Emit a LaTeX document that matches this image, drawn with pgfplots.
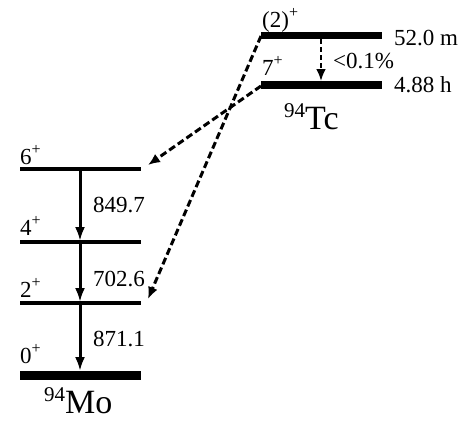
\documentclass[border=0pt]{standalone}
\usepackage{pgfplots}
\pgfplotsset{compat=1.18}
\usepackage{fontspec}
\setmainfont{Liberation Serif}
\usetikzlibrary{arrows.meta}

\newcommand{\lab}{\fontsize{23}{25}\selectfont}
\newcommand{\spin}[1]{\raisebox{0.42em}{\fontsize{16}{18}\selectfont #1}}
\newcommand{\nuc}[2]{{\fontsize{21}{23}\selectfont\raisebox{0.55em}{#1}}{\fontsize{34}{36}\selectfont #2}}

\begin{document}
\begin{tikzpicture}
\begin{axis}[
  width=467pt, height=421pt, scale only axis,
  xmin=0, xmax=467, ymin=0, ymax=421, y dir=reverse,
  hide axis, clip=false,
  level/.style={line width=#1, line cap=butt},
  gamma/.style={-{Latex[length=14pt,width=10pt]}, line width=3pt},
  feed/.style={-{Latex[length=12pt,width=10pt]}, line width=3pt, dash pattern=on 7pt off 3.5pt},
]
\path (axis cs:0,0) rectangle (axis cs:467,421);

% 94Tc states
\addplot[level=7pt] coordinates {(261,35) (382,35)};
\addplot[level=7.5pt] coordinates {(261,85) (382,85)};

% 94Mo states
\addplot[level=4pt] coordinates {(20,169) (141,169)};
\addplot[level=4pt] coordinates {(20,242) (141,242)};
\addplot[level=4pt] coordinates {(20,303) (141,303)};
\addplot[level=9pt] coordinates {(20,375) (141,375)};

% gamma cascade in 94Mo
\addplot[gamma] coordinates {(80,171) (80,241)};
\addplot[gamma] coordinates {(80,244) (80,302)};
\addplot[gamma] coordinates {(80,305) (80,371)};

% isomeric transition in 94Tc
\addplot[feed, line width=2.4pt, dash pattern=on 5pt off 3pt] coordinates {(321,39) (321,81)};

% beta feeding
\addplot[feed] coordinates {(261,86) (148,165)};
\addplot[feed] coordinates {(261,36) (148,299)};

% labels
\node[anchor=base west, inner sep=0] at (axis cs:262,27) {\lab (2)\spin{+}};
\node[anchor=base west, inner sep=0] at (axis cs:262,75) {\lab 7\spin{+}};
\node[anchor=base west, inner sep=0] at (axis cs:394,45) {\lab 52.0 m};
\node[anchor=base west, inner sep=0] at (axis cs:394,92) {\lab 4.88 h};
\node[anchor=base west, inner sep=0] at (axis cs:333,68) {\lab <0.1\%};
\node[anchor=base west, inner sep=0] at (axis cs:284,129) {\nuc{94}{Tc}};

\node[anchor=base west, inner sep=0] at (axis cs:20,164) {\lab 6\spin{+}};
\node[anchor=base west, inner sep=0] at (axis cs:20,235) {\lab 4\spin{+}};
\node[anchor=base west, inner sep=0] at (axis cs:20,297) {\lab 2\spin{+}};
\node[anchor=base west, inner sep=0] at (axis cs:20,363) {\lab 0\spin{+}};
\node[anchor=base west, inner sep=0] at (axis cs:93,212) {\lab 849.7};
\node[anchor=base west, inner sep=0] at (axis cs:93,286) {\lab 702.6};
\node[anchor=base west, inner sep=0] at (axis cs:93,346) {\lab 871.1};
\node[anchor=base west, inner sep=0] at (axis cs:44,413) {\nuc{94}{Mo}};
\end{axis}
\end{tikzpicture}
\end{document}
